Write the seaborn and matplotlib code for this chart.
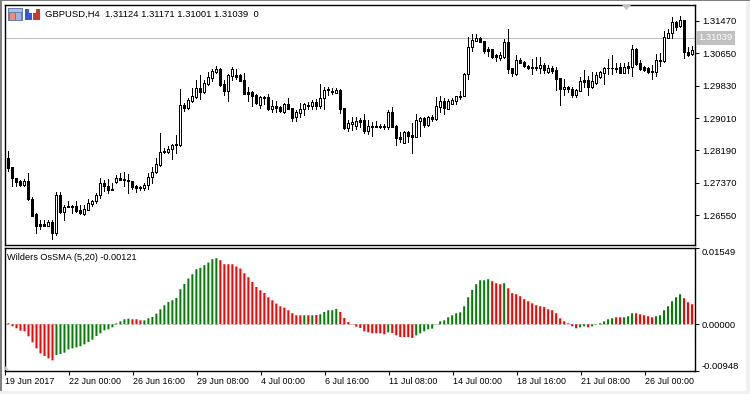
import matplotlib
matplotlib.use('Agg')
import matplotlib.pyplot as plt
from matplotlib.patches import Rectangle, Polygon
import seaborn as sns
import numpy as np
import pandas as pd

# H4 candles
opens = [1.2799, 1.2776, 1.2749, 1.2742, 1.2732, 1.2742, 1.2696, 1.2659, 1.2632, 1.2632, 1.2627, 1.2639, 1.2611, 1.2707, 1.2662, 1.2678, 1.2679, 1.2678, 1.2669, 1.2659,
         1.2669, 1.2684, 1.2690, 1.2707, 1.2736, 1.2728, 1.2721, 1.2738, 1.2749, 1.2746, 1.2745, 1.2742, 1.2728, 1.2726, 1.2723, 1.2732, 1.2751, 1.2764, 1.2782, 1.2818,
         1.2815, 1.2822, 1.2835, 1.2833, 1.2934, 1.2926, 1.2944, 1.2954, 1.2977, 1.2967, 1.2987, 1.3002, 1.3017, 1.3025, 1.2987, 1.2969, 1.3007, 1.3010, 1.3010, 1.2997,
         1.2967, 1.2967, 1.2959, 1.2934, 1.2954, 1.2954, 1.2924, 1.2931, 1.2929, 1.2916, 1.2937, 1.2926, 1.2904, 1.2914, 1.2924, 1.2934, 1.2931, 1.2942, 1.2931, 1.2952,
         1.2974, 1.2969, 1.2964, 1.2972, 1.2926, 1.2876, 1.2886, 1.2881, 1.2896, 1.2896, 1.2868, 1.2881, 1.2881, 1.2881, 1.2881, 1.2878, 1.2916, 1.2881, 1.2853, 1.2838,
         1.2866, 1.2858, 1.2853, 1.2894, 1.2901, 1.2883, 1.2904, 1.2899, 1.2929, 1.2944, 1.2924, 1.2937, 1.2944, 1.2957, 1.2957, 1.3012, 1.3081, 1.3096, 1.3103, 1.3096,
         1.3076, 1.3076, 1.3060, 1.3053, 1.3055, 1.3093, 1.3028, 1.3012, 1.3048, 1.3043, 1.3033, 1.3030, 1.3030, 1.3028, 1.3035, 1.3017, 1.3028, 1.3023, 1.3002, 1.2974,
         1.2980, 1.2974, 1.2959, 1.2969, 1.2997, 1.2997, 1.2980, 1.2990, 1.3005, 1.3015, 1.3028, 1.3028, 1.3028, 1.3030, 1.3015, 1.3033, 1.3030, 1.3076, 1.3040, 1.3030,
         1.3028, 1.3020, 1.3017, 1.3048, 1.3045, 1.3103, 1.3116, 1.3144, 1.3134, 1.3149, 1.3068, 1.3063]
highs = [1.2818, 1.2776, 1.2749, 1.2745, 1.2747, 1.2761, 1.2702, 1.2660, 1.2643, 1.2642, 1.2642, 1.2643, 1.2715, 1.2713, 1.2681, 1.2690, 1.2681, 1.2690, 1.2681, 1.2681,
         1.2696, 1.2694, 1.2711, 1.2749, 1.2745, 1.2746, 1.2736, 1.2757, 1.2761, 1.2764, 1.2759, 1.2742, 1.2732, 1.2729, 1.2736, 1.2761, 1.2778, 1.2799, 1.2863, 1.2825,
         1.2829, 1.2836, 1.2858, 1.2974, 1.2939, 1.2952, 1.2977, 1.2997, 1.3010, 1.2997, 1.3017, 1.3025, 1.3033, 1.3028, 1.2997, 1.3012, 1.3030, 1.3025, 1.3012, 1.3015,
         1.2980, 1.2969, 1.2962, 1.2957, 1.2957, 1.2962, 1.2947, 1.2944, 1.2931, 1.2939, 1.2952, 1.2926, 1.2921, 1.2939, 1.2939, 1.2942, 1.2947, 1.2949, 1.2987, 1.2980,
         1.2980, 1.2977, 1.2977, 1.2974, 1.2926, 1.2896, 1.2904, 1.2904, 1.2901, 1.2911, 1.2896, 1.2891, 1.2894, 1.2886, 1.2886, 1.2921, 1.2929, 1.2883, 1.2866, 1.2868,
         1.2868, 1.2888, 1.2911, 1.2904, 1.2904, 1.2906, 1.2909, 1.2954, 1.2957, 1.2952, 1.2949, 1.2952, 1.2957, 1.2969, 1.3015, 1.3106, 1.3114, 1.3114, 1.3106, 1.3096,
         1.3081, 1.3076, 1.3063, 1.3068, 1.3101, 1.3126, 1.3028, 1.3060, 1.3053, 1.3045, 1.3035, 1.3050, 1.3055, 1.3055, 1.3040, 1.3035, 1.3033, 1.3030, 1.3002, 1.3000,
         1.2982, 1.2980, 1.2974, 1.3005, 1.3023, 1.3007, 1.3017, 1.3017, 1.3020, 1.3030, 1.3050, 1.3060, 1.3040, 1.3040, 1.3040, 1.3043, 1.3086, 1.3078, 1.3048, 1.3033,
         1.3030, 1.3035, 1.3063, 1.3066, 1.3121, 1.3126, 1.3157, 1.3146, 1.3159, 1.3149, 1.3081, 1.3083]
lows = [1.2766, 1.2728, 1.2728, 1.2728, 1.2728, 1.2694, 1.2653, 1.2610, 1.2620, 1.2627, 1.2627, 1.2595, 1.2605, 1.2660, 1.2643, 1.2675, 1.2660, 1.2664, 1.2659, 1.2656,
        1.2667, 1.2679, 1.2687, 1.2698, 1.2717, 1.2711, 1.2719, 1.2736, 1.2745, 1.2729, 1.2711, 1.2722, 1.2715, 1.2719, 1.2719, 1.2721, 1.2736, 1.2761, 1.2780, 1.2812,
        1.2812, 1.2797, 1.2812, 1.2830, 1.2919, 1.2924, 1.2942, 1.2952, 1.2949, 1.2964, 1.2985, 1.2995, 1.3015, 1.2982, 1.2959, 1.2944, 1.2997, 1.3000, 1.2995, 1.2962,
        1.2944, 1.2931, 1.2937, 1.2926, 1.2937, 1.2921, 1.2916, 1.2916, 1.2916, 1.2914, 1.2924, 1.2894, 1.2894, 1.2904, 1.2909, 1.2924, 1.2924, 1.2924, 1.2926, 1.2924,
        1.2959, 1.2962, 1.2964, 1.2914, 1.2873, 1.2868, 1.2871, 1.2873, 1.2878, 1.2863, 1.2861, 1.2856, 1.2878, 1.2876, 1.2873, 1.2873, 1.2878, 1.2833, 1.2840, 1.2838,
        1.2840, 1.2813, 1.2853, 1.2856, 1.2878, 1.2881, 1.2894, 1.2896, 1.2916, 1.2911, 1.2924, 1.2937, 1.2937, 1.2949, 1.2957, 1.3000, 1.3071, 1.3096, 1.3093, 1.3066,
        1.3058, 1.3053, 1.3045, 1.3048, 1.3053, 1.3015, 1.3007, 1.3010, 1.3040, 1.3030, 1.3025, 1.3012, 1.3023, 1.3015, 1.3015, 1.3015, 1.3015, 1.2972, 1.2934, 1.2959,
        1.2967, 1.2954, 1.2954, 1.2969, 1.2980, 1.2959, 1.2977, 1.2987, 1.3002, 1.2987, 1.3012, 1.3012, 1.3017, 1.3015, 1.3015, 1.3015, 1.3007, 1.3035, 1.3023, 1.3020,
        1.3015, 1.3000, 1.3007, 1.3033, 1.3043, 1.3103, 1.3103, 1.3124, 1.3131, 1.3053, 1.3058, 1.3060]
closes = [1.2774, 1.2749, 1.2740, 1.2732, 1.2742, 1.2696, 1.2653, 1.2629, 1.2628, 1.2627, 1.2637, 1.2610, 1.2707, 1.2662, 1.2675, 1.2675, 1.2677, 1.2666, 1.2660, 1.2670,
          1.2686, 1.2690, 1.2707, 1.2736, 1.2728, 1.2719, 1.2719, 1.2749, 1.2745, 1.2743, 1.2742, 1.2726, 1.2724, 1.2723, 1.2732, 1.2751, 1.2764, 1.2784, 1.2815, 1.2815,
          1.2822, 1.2833, 1.2832, 1.2934, 1.2926, 1.2947, 1.2957, 1.2977, 1.2967, 1.2990, 1.3005, 1.3020, 1.3025, 1.2985, 1.2969, 1.3010, 1.3025, 1.3005, 1.2995, 1.2962,
          1.2962, 1.2957, 1.2939, 1.2954, 1.2952, 1.2924, 1.2931, 1.2926, 1.2919, 1.2937, 1.2924, 1.2901, 1.2916, 1.2924, 1.2937, 1.2931, 1.2942, 1.2931, 1.2952, 1.2972,
          1.2972, 1.2967, 1.2972, 1.2924, 1.2876, 1.2888, 1.2891, 1.2894, 1.2891, 1.2868, 1.2881, 1.2878, 1.2878, 1.2878, 1.2878, 1.2916, 1.2878, 1.2851, 1.2848, 1.2866,
          1.2856, 1.2853, 1.2896, 1.2901, 1.2883, 1.2904, 1.2899, 1.2931, 1.2944, 1.2926, 1.2944, 1.2947, 1.2957, 1.2954, 1.3012, 1.3081, 1.3098, 1.3103, 1.3093, 1.3071,
          1.3071, 1.3055, 1.3055, 1.3060, 1.3093, 1.3025, 1.3015, 1.3048, 1.3040, 1.3033, 1.3028, 1.3028, 1.3028, 1.3035, 1.3023, 1.3028, 1.3020, 1.3000, 1.2974, 1.2980,
          1.2974, 1.2959, 1.2972, 1.2995, 1.2992, 1.2980, 1.2995, 1.3010, 1.3017, 1.3028, 1.3028, 1.3028, 1.3025, 1.3015, 1.3030, 1.3028, 1.3076, 1.3038, 1.3025, 1.3023,
          1.3017, 1.3017, 1.3048, 1.3045, 1.3106, 1.3116, 1.3144, 1.3131, 1.3149, 1.3068, 1.3060, 1.3073]

# Wilders OsSMA histogram
osma = [0.00020, -0.00041, -0.00081, -0.00129, -0.00142, -0.00244, -0.00366, -0.00488, -0.00590, -0.00644, -0.00692, -0.00732,
        -0.00624, -0.00603, -0.00576, -0.00509, -0.00488, -0.00468, -0.00447, -0.00407, -0.00359, -0.00312, -0.00237, -0.00183,
        -0.00122, -0.00102, -0.00061, 0.00020, 0.00061, 0.00102, 0.00115, 0.00102, 0.00102, 0.00081, 0.00081, 0.00122,
        0.00149, 0.00217, 0.00305, 0.00386, 0.00454, 0.00488, 0.00536, 0.00712, 0.00820, 0.00929, 0.01017, 0.01119,
        0.01146, 0.01200, 0.01254, 0.01322, 0.01342, 0.01302, 0.01220, 0.01220, 0.01220, 0.01173, 0.01132, 0.01037,
        0.00956, 0.00861, 0.00759, 0.00692, 0.00637, 0.00549, 0.00488, 0.00420, 0.00366, 0.00339, 0.00285, 0.00224,
        0.00183, 0.00183, 0.00183, 0.00183, 0.00183, 0.00190, 0.00203, 0.00251, 0.00285, 0.00285, 0.00312, 0.00251,
        0.00129, 0.00047, -0.00007, -0.00047, -0.00075, -0.00142, -0.00163, -0.00183, -0.00183, -0.00183, -0.00203, -0.00163,
        -0.00176, -0.00224, -0.00258, -0.00258, -0.00258, -0.00278, -0.00224, -0.00183, -0.00142, -0.00102, -0.00088, -0.00007,
        0.00061, 0.00081, 0.00142, 0.00183, 0.00224, 0.00244, 0.00366, 0.00549, 0.00698, 0.00814, 0.00895, 0.00895,
        0.00915, 0.00875, 0.00834, 0.00814, 0.00834, 0.00732, 0.00631, 0.00610, 0.00570, 0.00509, 0.00468, 0.00427,
        0.00386, 0.00366, 0.00353, 0.00305, 0.00285, 0.00224, 0.00122, 0.00061, 0.00020, -0.00041, -0.00081, -0.00061,
        -0.00041, -0.00061, -0.00041, -0.00007, 0.00020, 0.00061, 0.00102, 0.00122, 0.00142, 0.00142, 0.00142, 0.00163,
        0.00224, 0.00224, 0.00203, 0.00183, 0.00163, 0.00142, 0.00163, 0.00183, 0.00285, 0.00366, 0.00468, 0.00549,
        0.00610, 0.00529, 0.00447, 0.00407]
runs = [('down', 12), ('up', 19), ('down', 3), ('up', 19), ('down', 21), ('up', 1), ('down', 1), ('up', 1), ('down', 1),
        ('up', 5), ('down', 12), ('up', 1), ('down', 6), ('up', 19), ('down', 3), ('up', 1), ('down', 18), ('up', 2),
        ('down', 1), ('up', 6), ('down', 2), ('up', 3), ('down', 5), ('up', 7), ('down', 3)]
state = [name for name, n in runs for _ in range(n)]

price_ticks = [1.31470, 1.30650, 1.29830, 1.29010, 1.28190, 1.27370, 1.26550]
osma_ticks = [0.01549, 0.0, -0.00948]
date_labels = ['19 Jun 2017', '22 Jun 00:00', '26 Jun 16:00', '29 Jun 08:00', '4 Jul 00:00', '6 Jul 16:00',
               '11 Jul 08:00', '14 Jul 00:00', '18 Jul 16:00', '21 Jul 08:00', '26 Jul 00:00']
last_price = 1.31039

W, H = 750, 394
sns.set_style('white')
plt.rcParams['font.family'] = ['Liberation Sans', 'DejaVu Sans']
plt.rcParams['font.size'] = 6.6
LW = 0.72  # one pixel at dpi 100


def px_rect(x0, y0, x1, y1, color, **kw):
    # rectangle in picture pixels, y going down
    return Rectangle((x0 / W, 1 - y1 / H), (x1 - x0) / W, (y1 - y0) / H, transform=fig.transFigure,
                     facecolor=color, edgecolor='none', **kw)


fig = plt.figure(figsize=(W / 100, H / 100), dpi=100, facecolor='white')
ax1 = fig.add_axes([5 / W, 1 - 245 / H, 690 / W, 240.5 / H])
ax2 = fig.add_axes([5 / W, 1 - 371 / H, 690 / W, 123 / H])

# candles
df = pd.DataFrame({'open': opens, 'high': highs, 'low': lows, 'close': closes})
df['bar'] = df.index
rising = df['close'] >= df['open']
ax1.axhline(last_price, color='#c0c0c0', lw=LW, zorder=1)
ax1.vlines(df['bar'], df['low'], df['high'], color='black', lw=LW, zorder=2, antialiased=False)
ax1.bar(df['bar'], df['close'] - df['open'], bottom=df['open'], width=0.5,
        color=['white' if r else 'black' for r in rising], edgecolor='black', linewidth=LW,
        zorder=3, antialiased=False)
ax1.set_xlim(-0.75, 171.75)
ax1.set_ylim(1.25797, 1.31882)
ax1.set_xticks([])
ax1.yaxis.tick_right()
ax1.set_yticks(price_ticks)
ax1.set_yticklabels([f'{v:.5f}' for v in price_ticks], fontsize=6.8)
ax1.text(1.0045, last_price, f'{last_price:.5f}', transform=ax1.get_yaxis_transform(), color='white', fontsize=6.8,
         va='center', ha='left', bbox=dict(facecolor='#c0c0c0', edgecolor='none', pad=1.6), clip_on=False)

# histogram
hist = pd.DataFrame({'bar': np.arange(len(osma)), 'osma': osma, 'state': state})
ax2.axhline(0, color='#c0c0c0', lw=LW, dashes=(3, 3), zorder=0)
sns.barplot(data=hist, x='bar', y='osma', hue='state', palette={'up': '#008000', 'down': '#ff0000'},
            dodge=False, native_scale=True, width=0.5, saturation=1, linewidth=0, legend=False,
            snap=False, ax=ax2, zorder=2)
ax2.set_xlim(-0.75, 171.75)
ax2.set_ylim(-0.00948, 0.01549)
ax2.set_xlabel('')
ax2.set_ylabel('')
ax2.yaxis.tick_right()
ax2.set_yticks(osma_ticks)
ax2.set_yticklabels(['0.01549', '0.00000', '-0.00948'], fontsize=6.8)
ax2.get_yticklabels()[0].set_va('top')
ax2.get_yticklabels()[2].set_va('bottom')
ax2.set_xticks(np.arange(len(date_labels)) * 16 - 0.875)
ax2.set_xticklabels(date_labels, ha='left', fontsize=6.4)

for ax in (ax1, ax2):
    sns.despine(ax=ax, top=False, right=False, left=False, bottom=False)
    for s in ax.spines.values():
        s.set_linewidth(LW * 1.4)
        s.set_color('black')
    ax.tick_params(axis='y', which='both', right=True, left=False, length=3, width=LW, pad=2, color='black', labelcolor='black')
    ax.tick_params(axis='x', which='both', bottom=True, length=3, width=LW, pad=1.5, color='black', labelcolor='black')

# legends written into the panes
fig.text(45 / W, 1 - 14 / H, 'GBPUSD,H4  1.31124 1.31171 1.31001 1.31039  0', ha='left', va='center', color='black', fontsize=6.8)
fig.text(7 / W, 1 - 257 / H, 'Wilders OsSMA (5,20) -0.00121', ha='left', va='center', color='black')

# window edge
fig.add_artist(px_rect(0, 0, W, 1, '#808080'))
fig.add_artist(px_rect(0, 0, 2, H, '#808080'))
fig.add_artist(px_rect(0, 391, W, H, '#f0f0f0'))
fig.add_artist(px_rect(746, 1, W, H, '#f0f0f0'))

# toolbar icons
fig.add_artist(px_rect(8, 8, 23, 21, '#6a7fa8'))
fig.add_artist(px_rect(9, 9, 22, 12, '#a9c0ee'))
fig.add_artist(px_rect(10, 13, 15, 20, '#f08a7a'))
fig.add_artist(px_rect(16, 13, 21, 20, '#9ab4ea'))
fig.add_artist(px_rect(25, 9, 32, 20, '#3a55d8'))
fig.add_artist(px_rect(33, 9, 40, 20, '#c83a30'))
fig.add_artist(px_rect(29, 9, 36, 13, 'white'))

# scroll marks
fig.add_artist(Polygon([(622 / W, 1 - 5 / H), (631 / W, 1 - 5 / H), (626.5 / W, 1 - 10 / H)], transform=fig.transFigure,
                       facecolor='#c0c0c0', edgecolor='none'))
fig.add_artist(Polygon([(5 / W, 1 - 370 / H), (5 / W, 1 - 366 / H), (9 / W, 1 - 370 / H)], transform=fig.transFigure,
                       facecolor='#c0c0c0', edgecolor='none'))

fig.savefig('out.png', dpi=100)
